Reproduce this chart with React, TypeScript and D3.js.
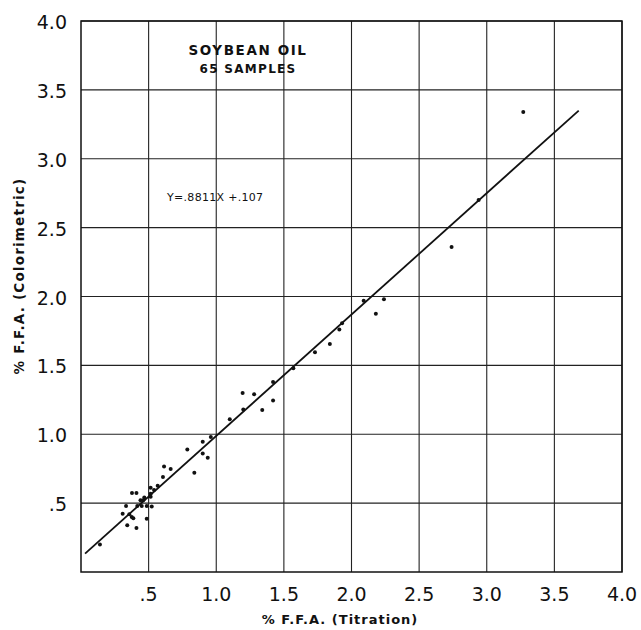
import * as d3 from "d3"

const W = 641
const H = 630
const M = { left: 81, right: 19, top: 21, bottom: 58 }

const xTicks = [0.5, 1.0, 1.5, 2.0, 2.5, 3.0, 3.5, 4.0]
const xTickLabels = [".5", "1.0", "1.5", "2.0", "2.5", "3.0", "3.5", "4.0"]
const yTicks = [0.5, 1.0, 1.5, 2.0, 2.5, 3.0, 3.5, 4.0]
const yTickLabels = [".5", "1.0", "1.5", "2.0", "2.5", "3.0", "3.5", "4.0"]

// titration (x) vs colorimetric (y)
const titration = [
  3.27, 2.94, 2.74, 2.24, 2.09, 2.18, 1.93, 1.91, 1.84, 1.73,
  1.57, 1.42, 1.42, 1.28, 1.195, 1.2, 1.34, 1.1, 0.96, 0.9,
  0.786, 0.9, 0.937, 0.838, 0.614, 0.663, 0.606, 0.567, 0.54, 0.515,
  0.515, 0.515, 0.468, 0.44, 0.46, 0.377, 0.41, 0.333, 0.308, 0.357,
  0.375, 0.387, 0.342, 0.41, 0.486, 0.416, 0.449, 0.486, 0.523, 0.14,
]
const colorimetric = [
  3.34, 2.7, 2.36, 1.98, 1.97, 1.875, 1.805, 1.76, 1.655, 1.595,
  1.48, 1.38, 1.245, 1.29, 1.3, 1.18, 1.176, 1.108, 0.98, 0.946,
  0.89, 0.86, 0.83, 0.72, 0.765, 0.748, 0.69, 0.627, 0.595, 0.612,
  0.568, 0.547, 0.54, 0.52, 0.52, 0.573, 0.573, 0.479, 0.423, 0.42,
  0.4, 0.39, 0.339, 0.32, 0.387, 0.48, 0.48, 0.48, 0.475, 0.2,
]

const slope = 0.8811
const intercept = 0.107
const fitRange = [0.03, 3.68]

export default function App() {
  const x = d3.scaleLinear().domain([0, 4]).range([M.left, W - M.right])
  const y = d3.scaleLinear().domain([0, 4]).range([H - M.bottom, M.top])
  const fit = d3
    .line<number>()
    .x((d) => x(d))
    .y((d) => y(slope * d + intercept))
  const tickFont = "'DejaVu Sans', sans-serif"
  return (
    <div style={{ position: "absolute", left: 0, top: 0 }}>
      <svg width={W} height={H} style={{ display: "block", background: "#fff" }}>
        {/* grid */}
        {xTicks.map((t) => (
          <line key={"gx" + t} x1={x(t)} x2={x(t)} y1={y(0)} y2={y(4)} stroke="#222" strokeWidth={1.1} />
        ))}
        {yTicks.map((t) => (
          <line key={"gy" + t} x1={x(0)} x2={x(4)} y1={y(t)} y2={y(t)} stroke="#222" strokeWidth={1.1} />
        ))}
        <rect x={x(0)} y={y(4)} width={x(4) - x(0)} height={y(0) - y(4)} fill="none" stroke="#111" strokeWidth={1.5} />

        {/* tick labels */}
        {xTicks.map((t, i) => (
          <text key={"tx" + t} x={x(t)} y={601} textAnchor="middle" fontSize={19} fontFamily={tickFont} fill="#111">
            {xTickLabels[i]}
          </text>
        ))}
        {yTicks.map((t, i) => (
          <text key={"ty" + t} x={67} y={y(t) + 8} textAnchor="end" fontSize={19} fontFamily={tickFont} fill="#111">
            {yTickLabels[i]}
          </text>
        ))}

        {/* axis titles */}
        <text x={340} y={624} textAnchor="middle" fontSize={13} fontWeight={700} fontFamily={tickFont} letterSpacing={1} fill="#111">
          % F.F.A. (Titration)
        </text>
        <text
          transform={`translate(24,276) rotate(-90)`}
          textAnchor="middle"
          fontSize={13.5}
          fontWeight={700}
          fontFamily={tickFont}
          letterSpacing={1.2}
          fill="#111"
        >
          % F.F.A. (Colorimetric)
        </text>

        {/* annotations */}
        <text x={248} y={55} textAnchor="middle" fontSize={13.5} fontWeight={700} fontFamily={tickFont} letterSpacing={1.6} fill="#111">
          SOYBEAN OIL
        </text>
        <text x={248} y={73} textAnchor="middle" fontSize={12} fontWeight={600} fontFamily={tickFont} letterSpacing={1.3} fill="#111">
          65 SAMPLES
        </text>
        <text x={167} y={201} fontSize={11} fontFamily={tickFont} letterSpacing={0.3} fill="#111">
          Y=.8811X +.107
        </text>

        {/* regression line */}
        <path d={fit(fitRange) ?? ""} fill="none" stroke="#111" strokeWidth={1.8} />

        {/* points */}
        {titration.map((v, i) => (
          <circle key={"p" + i} cx={x(v)} cy={y(colorimetric[i])} r={2} fill="#111" />
        ))}
      </svg>
    </div>
  )
}
